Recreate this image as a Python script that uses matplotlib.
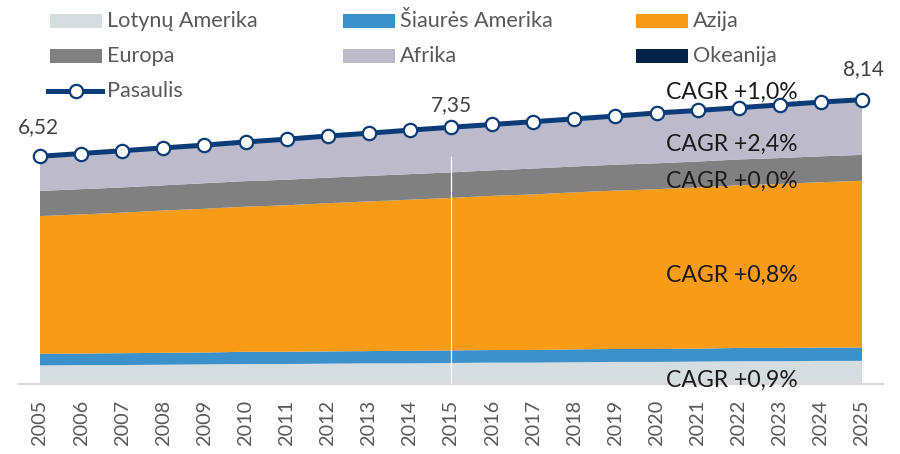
import matplotlib
matplotlib.use('Agg')
import matplotlib.pyplot as plt
from matplotlib.patches import Rectangle
from matplotlib.lines import Line2D

plt.rcParams['font.family'] = ['Lato', 'DejaVu Sans']

# Metai ir gyventojai (mlrd.) pagal regionus
years = list(range(2005, 2026))
lotynu = [0.54, 0.55, 0.55, 0.56, 0.57, 0.58, 0.58, 0.59, 0.60, 0.60, 0.61,
          0.62, 0.62, 0.63, 0.64, 0.64, 0.65, 0.66, 0.66, 0.67, 0.67]
siaures = [0.33, 0.33, 0.34, 0.34, 0.34, 0.35, 0.35, 0.35, 0.35, 0.36, 0.36,
           0.36, 0.36, 0.37, 0.37, 0.37, 0.37, 0.38, 0.38, 0.38, 0.38]
azija = [3.94, 3.98, 4.02, 4.07, 4.11, 4.15, 4.19, 4.24, 4.28, 4.32, 4.36,
         4.41, 4.45, 4.49, 4.53, 4.57, 4.61, 4.65, 4.69, 4.73, 4.77]
europa = [0.72, 0.72, 0.72, 0.72, 0.73, 0.73, 0.73, 0.73, 0.73, 0.73, 0.73,
          0.73, 0.74, 0.74, 0.74, 0.74, 0.74, 0.74, 0.74, 0.74, 0.74]
afrika = [0.96, 0.98, 1.01, 1.03, 1.05, 1.08, 1.12, 1.15, 1.18, 1.22, 1.25,
          1.27, 1.30, 1.32, 1.35, 1.40, 1.42, 1.44, 1.48, 1.51, 1.54]
okeanija = [0.034, 0.035, 0.035, 0.036, 0.036, 0.037, 0.037, 0.038, 0.038, 0.039, 0.039,
            0.040, 0.040, 0.041, 0.041, 0.042, 0.042, 0.043, 0.043, 0.044, 0.045]
pasaulis = [6.52, 6.60, 6.68, 6.76, 6.84, 6.93, 7.01, 7.10, 7.18, 7.27, 7.35,
            7.43, 7.51, 7.59, 7.67, 7.76, 7.83, 7.91, 7.99, 8.07, 8.14]

region_names = ['Lotynų Amerika', 'Šiaurės Amerika', 'Azija', 'Europa', 'Afrika', 'Okeanija']
region_colors = ['#D6DDE0', '#3D91CB', '#F89B17', '#808080', '#BCBACB', '#022347']
world_name = 'Pasaulis'
world_color = '#0C3C78'

# CAGR uzrasai: tekstas ir y (bazine linija)
cagr_texts = ['CAGR +1,0%', 'CAGR +2,4%', 'CAGR +0,0%', 'CAGR +0,8%', 'CAGR +0,9%']
cagr_y = [8.16, 6.68, 5.61, 2.92, -0.08]

# reiksmiu uzrasai
label_years = [2005, 2015, 2025]
label_texts = ['6,52', '7,35', '8,14']
label_offsets = [(-2, 23), (0, 16), (1, 25)]

W, H = 900, 454
fig = plt.figure(figsize=(W / 100, H / 100), dpi=100)
ax = fig.add_axes([19.45 / W, (H - 384.3) / H, 863.1 / W, 384.3 / H])

ax.stackplot(years, lotynu, siaures, azija, europa, afrika, okeanija,
             colors=region_colors, linewidth=0, zorder=2)
ax.vlines(2015, 0, 6.53, color='white', lw=0.9, zorder=3)
ax.plot(years, pasaulis, color=world_color, lw=3.6, marker='o', ms=9.6,
        mfc='white', mec=world_color, mew=1.6, zorder=5, clip_on=False)

for yr, txt, off in zip(label_years, label_texts, label_offsets):
    i = years.index(yr)
    ax.annotate(txt, (yr, pasaulis[i]), xytext=off, textcoords='offset pixels',
                ha='center', va='baseline', fontsize=15, color='#404040')

for txt, yy in zip(cagr_texts, cagr_y):
    ax.text(2020.23, yy, txt, ha='left', va='baseline', fontsize=16.6, color='#1A1A1A', zorder=6)

ax.set_xlim(2004.5, 2025.5)
ax.set_ylim(0, 10.99)
ax.set_xticks(years)
ax.set_xticklabels([str(y) for y in years], rotation=90, fontsize=14.3, color='#595959')
ax.tick_params(axis='x', length=0, pad=11)
ax.set_yticks([])
for s in ['top', 'right', 'left']:
    ax.spines[s].set_visible(False)
ax.spines['bottom'].set_color('#D9D9D9')
ax.spines['bottom'].set_linewidth(1.5)
ax.set_facecolor('none')


def fx(x):
    return x / W


def fy(y):
    return 1 - y / H


# legenda: eilutemis po tris
col_x = [50, 343, 636]
row_y = [21, 56, 91]
for k, (name, col) in enumerate(zip(region_names, region_colors)):
    cx = col_x[k % 3]
    ry = row_y[k // 3]
    fig.add_artist(Rectangle((fx(cx), fy(ry + 7)), 52 / W, 14 / H,
                             transform=fig.transFigure, color=col, lw=0))
    fig.text(fx(cx + 57), fy(ry + 6), name, ha='left', va='baseline',
             fontsize=15.6, color='#595959')

fig.add_artist(Line2D([fx(48), fx(102)], [fy(91), fy(91)], transform=fig.transFigure,
                      color=world_color, lw=3.6))
fig.add_artist(Line2D([fx(76)], [fy(91)], transform=fig.transFigure, marker='o', ms=9.6,
                      mfc='white', mec=world_color, mew=1.6, lw=0))
fig.text(fx(107), fy(97), world_name, ha='left', va='baseline', fontsize=15.6, color='#595959')

fig.savefig('out.png', dpi=100, facecolor='white')
